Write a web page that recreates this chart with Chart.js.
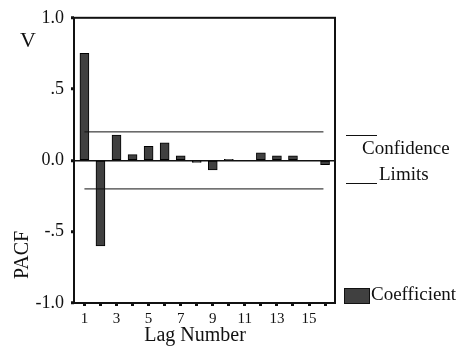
<!DOCTYPE html>
<html>
<head>
<meta charset="utf-8">
<script src="https://cdn.jsdelivr.net/npm/chart.js@4/dist/chart.umd.min.js"></script>
<style>
  body{margin:0;background:#fff;}
  #wrap{width:459px;height:350px;}
</style>
</head>
<body>
<div id="wrap"><canvas id="pacfChart" width="459" height="350"></canvas></div>
<script>
// lag numbers and partial autocorrelation values
const lags = [1,2,3,4,5,6,7,8,9,10,11,12,13,14,15,16];
const pacf = [0.75,-0.60,0.178,0.041,0.099,0.123,0.032,-0.015,-0.066,0.008,0,0.053,0.032,0.032,0,-0.03];
const confUpper = 0.2;
const confLower = -0.2;
const confRange = [1, 15.9];
const yTicks = [-1, -0.5, 0, 0.5, 1];
const yTickLabels = ["-1.0", "-.5", "0.0", ".5", "1.0"];

const serif = "'Liberation Serif', 'Times New Roman', serif";
const ink = "#111";
const barFill = "#404040";

// frame, extra titles and the legend drawn like the original
const extras = {
  id: 'extras',
  afterDraw(chart){
    const c = chart.ctx, a = chart.chartArea;
    c.save();
    c.strokeStyle = ink;
    c.lineWidth = 2;
    c.strokeRect(a.left, a.top, a.right - a.left, a.bottom - a.top);

    c.fillStyle = ink;
    c.textBaseline = 'alphabetic';
    c.font = "22px " + serif;
    c.textAlign = 'center';
    c.fillText("V", 28, 47);

    c.font = "20px " + serif;
    c.fillText("Lag Number", 195, 341);

    c.save();
    c.translate(28, 255);
    c.rotate(-Math.PI/2);
    c.fillText("PACF", 0, 0);
    c.restore();

    // legend
    c.font = "19px " + serif;
    c.textAlign = 'left';
    c.lineWidth = 1;
    c.beginPath();
    c.moveTo(346, 135.5); c.lineTo(377, 135.5);
    c.moveTo(346, 183.5); c.lineTo(377, 183.5);
    c.stroke();
    c.fillText("Confidence", 362, 154);
    c.fillText("Limits", 379, 180);

    c.fillStyle = barFill;
    c.fillRect(344.5, 288.5, 25, 15);
    c.strokeRect(344.5, 288.5, 25, 15);
    c.fillStyle = ink;
    c.fillText("Coefficient", 371, 300);
    c.restore();
  }
};

new Chart(document.getElementById('pacfChart'), {
  type: 'bar',
  data: {
    datasets: [
      {
        type: 'line',
        data: [{x: confRange[0], y: confUpper}, {x: confRange[1], y: confUpper}],
        borderColor: ink, borderWidth: 1, pointRadius: 0, fill: false
      },
      {
        type: 'line',
        data: [{x: confRange[0], y: confLower}, {x: confRange[1], y: confLower}],
        borderColor: ink, borderWidth: 1, pointRadius: 0, fill: false
      },
      {
        label: 'Coefficient',
        data: lags.map((l, i) => ({x: l, y: pacf[i]})),
        backgroundColor: barFill,
        borderColor: '#000',
        borderWidth: 1,
        barThickness: 9,
        borderSkipped: false
      }
    ]
  },
  options: {
    responsive: false,
    animation: false,
    devicePixelRatio: 1,
    layout: {padding: {top: 16, right: 124, left: 0, bottom: 0}},
    plugins: {legend: {display: false}, tooltip: {enabled: false}},
    scales: {
      x: {
        type: 'linear',
        offset: false,
        min: 0.35,
        max: 16.62,
        afterFit: s => { s.height = 47; },
        afterBuildTicks: s => { s.ticks = lags.map(v => ({value: v})); },
        border: {display: false},
        grid: {drawOnChartArea: false, offset: false, tickLength: 3, tickWidth: 3, tickColor: ink},
        ticks: {
          autoSkip: false,
          maxRotation: 0,
          padding: 4,
          color: ink,
          font: {family: serif, size: 15},
          callback: v => (v % 2 === 1 ? String(v) : '')
        }
      },
      y: {
        min: -1,
        max: 1,
        afterFit: s => { s.width = 74; },
        afterBuildTicks: s => { s.ticks = yTicks.map(v => ({value: v})); },
        border: {display: false},
        grid: {
          color: c => (c.tick && c.tick.value === 0 ? ink : 'rgba(0,0,0,0)'),
          lineWidth: 1.5,
          tickLength: 3, tickWidth: 3, tickColor: ink
        },
        ticks: {
          padding: 7,
          color: ink,
          font: {family: serif, size: 18},
          callback: v => yTickLabels[yTicks.indexOf(v)]
        }
      }
    }
  },
  plugins: [extras]
});
</script>
</body>
</html>
